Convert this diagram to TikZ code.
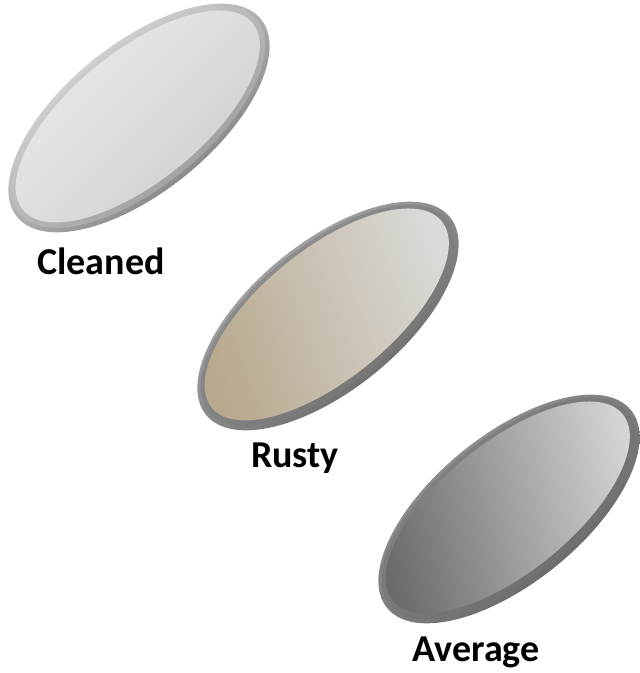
\documentclass[tikz,border=0pt]{standalone}
\usepackage{fontspec}
\setmainfont{Carlito}
\tikzset{
  lbl/.style={font=\fontsize{38}{40}\selectfont\bfseries, anchor=base, inner sep=0pt},
}
% #1 centre, #2 rim style, #3 ring style, #4 face style
\newcommand\mydisc[4]{%
  \begin{scope}[rotate around={39:(#1)}]
    \path[#2] (#1) ellipse [x radius=157pt, y radius=74pt];
    \path[#3] ([shift={(0pt,1pt)}]#1) ellipse [x radius=153pt, y radius=70pt];
    \path[#4] ([shift={(0pt,2pt)}]#1) ellipse [x radius=148pt, y radius=65pt];
  \end{scope}}
\begin{document}
\begin{tikzpicture}[x=1pt,y=-1pt]
  \useasboundingbox (0,0) rectangle (640,673);
  \coordinate (c1) at (139,118);
  \coordinate (c2) at (328,316);
  \coordinate (c3) at (509,509);
  % Cleaned
  \mydisc{c1}
    {top color=black!8, bottom color=black!55, shading angle=40}
    {top color=black!14, bottom color=black!42, shading angle=40}
    {top color=black!8, bottom color=black!19, shading angle=45};
  % Rusty
  \mydisc{c2}
    {top color=black!30, bottom color=black!62, shading angle=40}
    {top color=black!42, bottom color=black!56, shading angle=40}
    {top color={rgb,255:red,218;green,218;blue,216}, bottom color={rgb,255:red,184;green,168;blue,141}, shading angle=-70};
  % Average
  \mydisc{c3}
    {top color=black!40, bottom color=black!62, shading angle=40}
    {top color=black!48, bottom color=black!58, shading angle=40}
    {top color=black!17, bottom color=black!58, shading angle=-75};
  \node[lbl] (l1) at (101,274) {Cleaned};
  \node[lbl] (l2) at (295,467) {Rusty};
  \node[lbl] (l3) at (476,661) {Average};
\end{tikzpicture}
\end{document}
